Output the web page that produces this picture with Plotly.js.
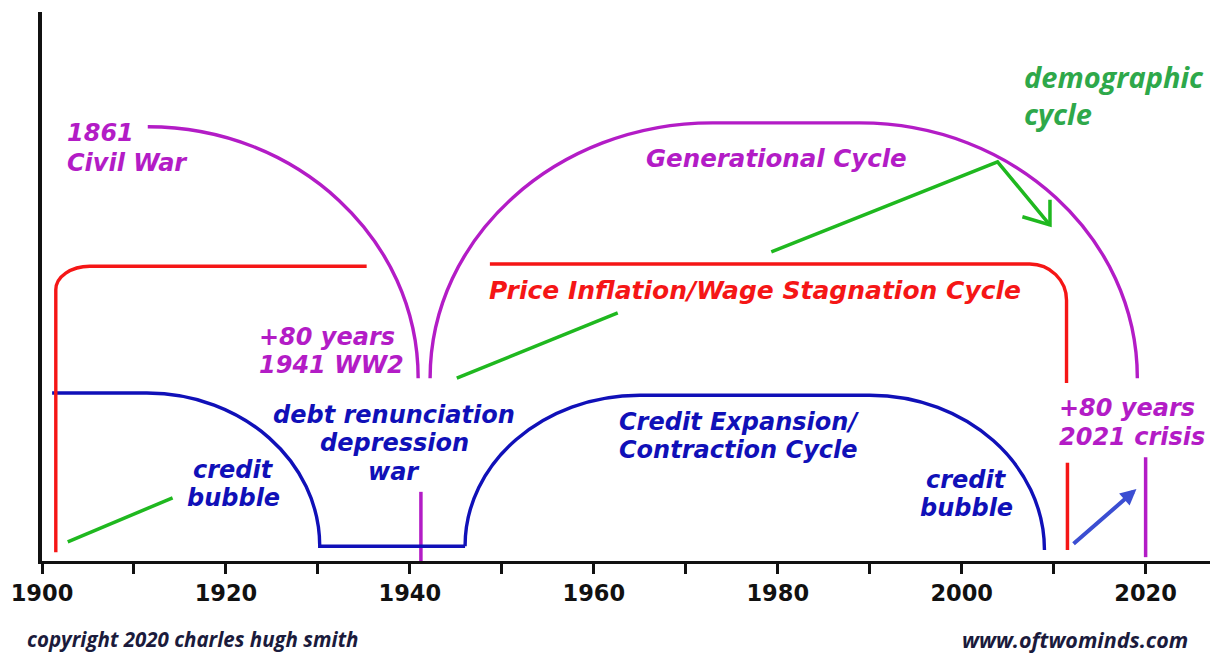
<!DOCTYPE html>
<html><head><meta charset="utf-8">
<script src="https://cdn.plot.ly/plotly-3.0.1.min.js"></script>
<style>html,body{margin:0;padding:0;background:#fff}#chart{width:1217px;height:655px}</style>
</head><body><div id="chart"></div>
<script>
// ---- axis ticks ----
const tickYears  = [1900,1910,1920,1930,1940,1950,1960,1970,1980,1990,2000,2010,2020];
const tickLabels = ['1900','','1920','','1940','','1960','','1980','','2000','','2020'];

// ---- Credit Expansion/Contraction cycle (blue): anchor years / levels ----
const creditYears1  = [1901.1, 1911.4, 1930.2, 1946.0];
const creditLevels1 = [30.6, 30.6, 2.7, 2.7];
const creditKinds1  = ['M','L','HV','L'];
const creditYears2  = [1946.0, 1965.0, 1990.0, 2009.0];
const creditLevels2 = [2.7, 30.2, 30.2, 2.0];
const creditKinds2  = ['M','VH','L','HV'];

// ---- Price Inflation/Wage Stagnation cycle (red) ----
const priceYears1  = [1901.5, 1901.5, 1905.2, 1935.3];
const priceLevels1 = [1.6, 49.4, 53.7, 53.7];
const priceKinds1  = ['M','L','VH','L'];
const priceYears2  = [1948.7, 2007.4, 2011.4, 2011.4];
const priceLevels2 = [54.1, 54.1, 47.5, 32.4];
const priceKinds2  = ['M','L','HV','L'];
const priceYears3  = [2011.5, 2011.5];
const priceLevels3 = [17.9, 2.0];

// ---- Generational cycle (magenta) ----
const genYears1  = [1911.5, 1940.9];
const genLevels1 = [79.1, 33.3];
const genKinds1  = ['M','HV'];
const genYears2  = [1942.2, 1972.9, 1988.9, 2019.1];
const genLevels2 = [33.3, 79.8, 79.8, 33.3];
const genKinds2  = ['M','VH','L','HV'];
const ww2Years   = [1941.2, 1941.2];
const ww2Levels  = [0, 12.6];
const crisisYears  = [2020.0, 2020.0];
const crisisLevels = [0.7, 18.9];

// ---- demographic cycle (green) ----
const demoYears1  = [1902.8, 1914.2];
const demoLevels1 = [3.5, 11.5];
const demoYears2  = [1945.1, 1962.6];
const demoLevels2 = [33.3, 45.2];
const demoYears3  = [1979.3, 2003.9, 2009.6];
const demoLevels3 = [56.3, 72.7, 61.2];
const demoHeadYears  = [2006.6, 2009.6, 2009.6];
const demoHeadLevels = [62.7, 61.2, 65.8];

// ---- blue arrow near 2012-2019 ----
const arrowYears  = [2012.0, 2019.0];
const arrowLevels = [2.9, 13.1];

const MAG = '#b31cc6', RED = '#f51616', BLU = '#1010b8', GRN = '#1fb81f';

const K = 0.5523;
function buildPath(xs, ys, kinds) {
  let p = '';
  for (let i = 0; i < xs.length; i++) {
    const x = xs[i], y = ys[i];
    if (kinds[i] === 'M') p += 'M' + x + ',' + y;
    else if (kinds[i] === 'L') p += ' L' + x + ',' + y;
    else {
      const x0 = xs[i-1], y0 = ys[i-1];
      if (kinds[i] === 'HV') {
        p += ' C' + (x0 + K*(x-x0)) + ',' + y0 + ' ' + x + ',' + (y + K*(y0-y)) + ' ' + x + ',' + y;
      } else {
        p += ' C' + x0 + ',' + (y0 + K*(y-y0)) + ' ' + (x + K*(x0-x)) + ',' + y + ' ' + x + ',' + y;
      }
    }
  }
  return p;
}
function pathShape(xs, ys, kinds, color, w) {
  return {type:'path', xref:'x', yref:'y', path: buildPath(xs, ys, kinds),
          line:{color:color, width:w}, fillcolor:'rgba(0,0,0,0)'};
}
function seg(xs, ys, color, w) {
  return {x:xs, y:ys, mode:'lines', line:{color:color, width:w}, hoverinfo:'skip', cliponaxis:false};
}

const traces = [
  seg(priceYears3, priceLevels3, RED, 3.5),
  seg(ww2Years, ww2Levels, MAG, 3.5),
  seg(crisisYears, crisisLevels, MAG, 3.5),
  seg(demoYears1, demoLevels1, GRN, 3.5),
  seg(demoYears2, demoLevels2, GRN, 3.5),
  seg(demoYears3, demoLevels3, GRN, 3.5),
  seg(demoHeadYears, demoHeadLevels, GRN, 3.5)
];

const shapes = [
  pathShape(creditYears1, creditLevels1, creditKinds1, BLU, 3.4),
  pathShape(creditYears2, creditLevels2, creditKinds2, BLU, 3.4),
  pathShape(priceYears1, priceLevels1, priceKinds1, RED, 3.4),
  pathShape(priceYears2, priceLevels2, priceKinds2, RED, 3.4),
  pathShape(genYears1, genLevels1, genKinds1, MAG, 3.4),
  pathShape(genYears2, genLevels2, genKinds2, MAG, 3.4)
];

const F = 'DejaVu Sans';
const annotations = [];
function lab(lines, x, ys, color, anchor, size, family) {
  lines.forEach((t, i) => {
    annotations.push({text:t, x:x, y:ys[i], xref:'x', yref:'y', showarrow:false,
      xanchor:anchor, yanchor:'middle',
      font:{family:family || F, size:size || 24, color:color, weight:'bold', style:'italic'}});
  });
}
lab(['1861','Civil War'], 1902.5, [78.0, 72.5], MAG, 'left');
lab(['Generational Cycle'], 1979.9, [73.4], MAG, 'center', 24.5);
lab(['Price Inflation/Wage Stagnation Cycle'], 1977.5, [49.2], RED, 'center', 25);
lab(['+80 years','1941 WW2'], 1923.4, [40.8, 35.7], MAG, 'left');
lab(['debt renunciation','depression','war'], 1938.3, [26.6, 21.5, 16.2], BLU, 'center');
lab(['credit','bubble'], 1920.8, [16.6, 11.5], BLU, 'center');
lab(['Credit Expansion/','Contraction Cycle'], 1962.5, [25.3, 20.2], BLU, 'left');
lab(['credit','bubble'], 2000.5, [14.8, 9.7], BLU, 'center');
lab(['+80 years','2021 crisis'], 2010.4, [27.9, 22.6], MAG, 'left');
lab(['demographic','cycle'], 2006.6, [88.2, 81.6], '#2ea84a', 'left', 29, 'Open Sans');

annotations.push({text:'', x:arrowYears[1], y:arrowLevels[1], ax:arrowYears[0], ay:arrowLevels[0],
   xref:'x', yref:'y', axref:'x', ayref:'y', showarrow:true, arrowhead:2, arrowsize:0.8,
   arrowwidth:4, arrowcolor:'#3b4ed2'});

// footer texts, positioned in figure pixels converted to plot-area paper coords
const L = 42, T = 12, W = 1217 - 42 - 7, H = 655 - 12 - 94;
function footer(text, px, py, anchor, size) {
  annotations.push({text:text, x:(px - L) / W, y:1 - (py - T) / H, xref:'paper', yref:'paper',
    showarrow:false, xanchor:anchor, yanchor:'middle',
    font:{family:'Open Sans', size:size, color:'#1b1b3c', weight:'bold', style:'italic'}});
}
footer('copyright 2020 charles hugh smith', 25, 639, 'left', 20.5);
footer('www.oftwominds.com', 1190, 639, 'right', 21.5);

const layout = {
  width:1217, height:655,
  margin:{l:42, r:7, t:12, b:94},
  paper_bgcolor:'#fff', plot_bgcolor:'#fff',
  showlegend:false,
  xaxis:{range:[1900, 2027], showline:true, linecolor:'#111', linewidth:3,
         ticks:'outside', ticklen:10, tickwidth:3, tickcolor:'#111',
         tickmode:'array', tickvals:tickYears, ticktext:tickLabels,
         tickfont:{family:F, size:22.5, color:'#111', weight:'bold'},
         showgrid:false, zeroline:false, fixedrange:true},
  yaxis:{range:[0, 100], showline:true, linecolor:'#111', linewidth:4,
         showticklabels:false, ticks:'', showgrid:false, zeroline:false, fixedrange:true},
  shapes:shapes,
  annotations:annotations
};
Plotly.newPlot('chart', traces, layout, {displayModeBar:false, staticPlot:true});
</script>
</body></html>
